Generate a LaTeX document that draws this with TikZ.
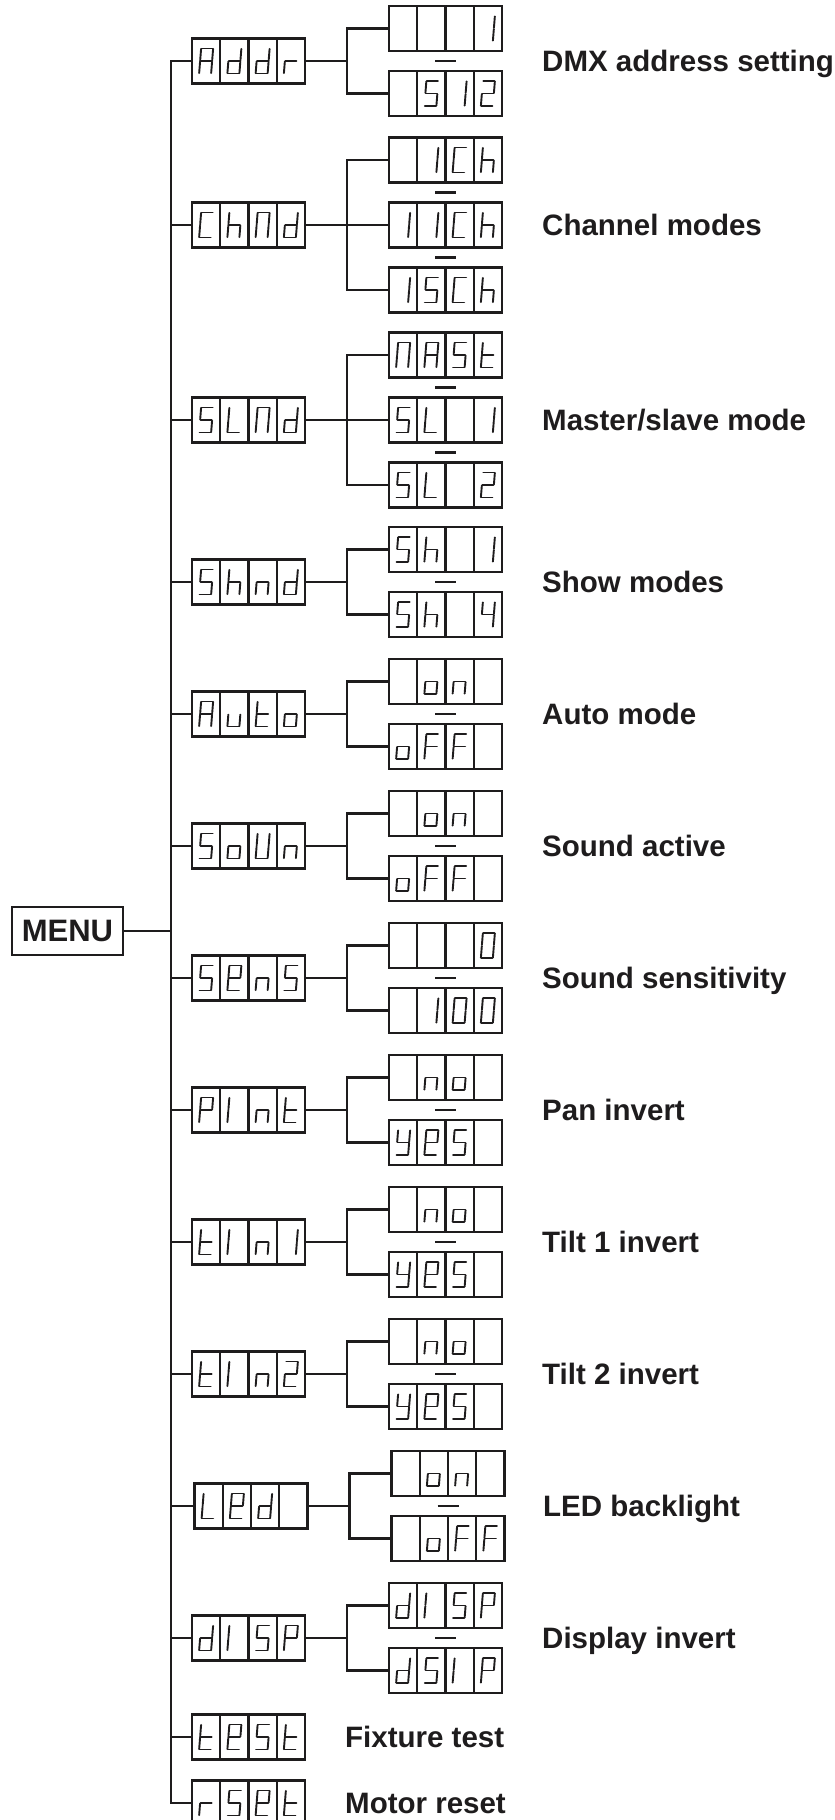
\documentclass[tikz,border=0pt]{standalone}
\usepackage{fontspec}
\newfontfamily\labfam{Liberation Sans}
\definecolor{ink}{RGB}{30,28,29}
\newcommand\labfont{\labfam\bfseries\fontsize{29.5}{32}\selectfont}
\newcommand\menufont{\labfam\bfseries\fontsize{31}{34}\selectfont}
% segments (local units, y downwards)
\def\sga{(-5.6,-12.5)--(5.6,-12.5)}
\def\sgb{(6,-12.1)--(6,-0.6)}
\def\sgc{(6,0.6)--(6,12.1)}
\def\sgd{(-5.6,12.5)--(5.6,12.5)}
\def\sge{(-6,0.6)--(-6,12.1)}
\def\sgf{(-6,-12.1)--(-6,-0.6)}
\def\sgg{(-5.6,0)--(5.6,0)}
% characters
\def\dgA{a,b,c,e,f,g}
\def\dgd{b,c,d,e,g}
\def\dgr{e,g}
\def\dgone{b,c}
\def\dgI{e,f}
\def\dgtwo{a,b,d,e,g}
\def\dgfour{b,c,f,g}
\def\dgS{a,c,d,f,g}
\def\dgzero{a,b,c,d,e,f}
\def\dgC{a,d,e,f}
\def\dgh{c,e,f,g}
\def\dgM{a,b,c,e,f}
\def\dgL{d,e,f}
\def\dgt{d,e,f,g}
\def\dgn{c,e,g}
\def\dgo{c,d,e,g}
\def\dgu{c,d,e}
\def\dgU{b,c,d,e,f}
\def\dgF{a,e,f,g}
\def\dge{a,b,d,e,f,g}
\def\dgP{a,b,e,f,g}
\def\dgy{b,c,d,f,g}
\def\dgX{}
\newcommand\glyph[3]{%
  \edef\glyphlist{#3}%
  \ifx\glyphlist\empty\else
  \begin{scope}[shift={(#1,#2)}, xslant=0.08]
    \foreach \s in \glyphlist {\expandafter\let\expandafter\segpath\csname sg\s\endcsname
      \draw[segline] \segpath;}
  \end{scope}\fi}
\newcommand\segbox[7]{%
  \node[dispbox] (#1) at (#2,#3) {};
  \foreach \dx in {-28.25,0,28.25} {\draw[boxline] (#2+\dx,#3-22.5) -- (#2+\dx,#3+22.5);}
  \glyph{#2-42.375}{#3}{#4}%
  \glyph{#2-14.125}{#3}{#5}%
  \glyph{#2+14.125}{#3}{#6}%
  \glyph{#2+42.375}{#3}{#7}%
}
\begin{document}
\begin{tikzpicture}[x=1pt,y=-1pt,
  wire/.style={line width=2.2pt, draw=ink},
  boxline/.style={line width=2.2pt, draw=ink},
  dispbox/.style={draw=ink, line width=2.2pt, minimum width=113pt, minimum height=45pt, inner sep=0pt},
  segline/.style={line width=1.9pt, draw=ink, line cap=round},
  lab/.style={font=\labfont, text=ink, inner sep=0pt, anchor=base west},
  menubox/.style={draw=ink, line width=2.2pt, minimum width=111pt, minimum height=48pt, inner sep=0pt, font=\menufont, text=ink}]
\useasboundingbox (0,0) rectangle (835,1820);
\coordinate (tr) at (171,900);
\coordinate (jx) at (347,0);
\coordinate (jxL) at (349.5,0);
% MENU
\node[menubox] (menu) at (67.5,931) {MENU};
% Row 1 Addr
\segbox{m1}{248.5}{61}{\dgA}{\dgd}{\dgd}{\dgr}
\segbox{o1a}{445.5}{28.5}{\dgX}{\dgX}{\dgX}{\dgone}
\segbox{o1b}{445.5}{93.5}{\dgX}{\dgS}{\dgone}{\dgtwo}
\node[lab] (l1) at (542,71.5) {DMX address setting};
% Row 2 ChMd
\segbox{m2}{248.5}{225}{\dgC}{\dgh}{\dgM}{\dgd}
\segbox{o2a}{445.5}{160}{\dgX}{\dgone}{\dgC}{\dgh}
\segbox{o2b}{445.5}{225}{\dgone}{\dgone}{\dgC}{\dgh}
\segbox{o2c}{445.5}{290}{\dgone}{\dgS}{\dgC}{\dgh}
\node[lab] (l2) at (542,235.5) {Channel modes};
% Row 3 SLMd
\segbox{m3}{248.5}{420}{\dgS}{\dgL}{\dgM}{\dgd}
\segbox{o3a}{445.5}{355}{\dgM}{\dgA}{\dgS}{\dgt}
\segbox{o3b}{445.5}{420}{\dgS}{\dgL}{\dgX}{\dgone}
\segbox{o3c}{445.5}{485}{\dgS}{\dgL}{\dgX}{\dgtwo}
\node[lab] (l3) at (542,430.5) {Master/slave mode};
% Row 4 Shnd
\segbox{m4}{248.5}{582}{\dgS}{\dgh}{\dgn}{\dgd}
\segbox{o4a}{445.5}{549.5}{\dgS}{\dgh}{\dgX}{\dgone}
\segbox{o4b}{445.5}{614.5}{\dgS}{\dgh}{\dgX}{\dgfour}
\node[lab] (l4) at (542,592.5) {Show modes};
% Row 5 Auto
\segbox{m5}{248.5}{714}{\dgA}{\dgu}{\dgt}{\dgo}
\segbox{o5a}{445.5}{681.5}{\dgX}{\dgo}{\dgn}{\dgX}
\segbox{o5b}{445.5}{746.5}{\dgo}{\dgF}{\dgF}{\dgX}
\node[lab] (l5) at (542,724.5) {Auto mode};
% Row 6 SoUn
\segbox{m6}{248.5}{846}{\dgS}{\dgo}{\dgU}{\dgn}
\segbox{o6a}{445.5}{813.5}{\dgX}{\dgo}{\dgn}{\dgX}
\segbox{o6b}{445.5}{878.5}{\dgo}{\dgF}{\dgF}{\dgX}
\node[lab] (l6) at (542,856.5) {Sound active};
% Row 7 SEnS
\segbox{m7}{248.5}{978}{\dgS}{\dge}{\dgn}{\dgS}
\segbox{o7a}{445.5}{945.5}{\dgX}{\dgX}{\dgX}{\dgzero}
\segbox{o7b}{445.5}{1010.5}{\dgX}{\dgone}{\dgzero}{\dgzero}
\node[lab] (l7) at (542,988.5) {Sound sensitivity};
% Row 8 PInt
\segbox{m8}{248.5}{1110}{\dgP}{\dgI}{\dgn}{\dgt}
\segbox{o8a}{445.5}{1077.5}{\dgX}{\dgn}{\dgo}{\dgX}
\segbox{o8b}{445.5}{1142.5}{\dgy}{\dge}{\dgS}{\dgX}
\node[lab] (l8) at (542,1120.5) {Pan invert};
% Row 9 tIn1
\segbox{m9}{248.5}{1242}{\dgt}{\dgI}{\dgn}{\dgone}
\segbox{o9a}{445.5}{1209.5}{\dgX}{\dgn}{\dgo}{\dgX}
\segbox{o9b}{445.5}{1274.5}{\dgy}{\dge}{\dgS}{\dgX}
\node[lab] (l9) at (542,1252.5) {Tilt 1 invert};
% Row 10 tIn2
\segbox{m10}{248.5}{1374}{\dgt}{\dgI}{\dgn}{\dgtwo}
\segbox{o10a}{445.5}{1341.5}{\dgX}{\dgn}{\dgo}{\dgX}
\segbox{o10b}{445.5}{1406.5}{\dgy}{\dge}{\dgS}{\dgX}
\node[lab] (l10) at (542,1384.5) {Tilt 2 invert};
% Row 11 LEd
\segbox{m11}{251}{1506}{\dgL}{\dge}{\dgd}{\dgX}
\segbox{o11a}{448}{1473.5}{\dgX}{\dgo}{\dgn}{\dgX}
\segbox{o11b}{448}{1538.5}{\dgX}{\dgo}{\dgF}{\dgF}
\node[lab] (l11) at (543,1516.5) {LED backlight};
% Row 12 dISP
\segbox{m12}{248.5}{1638}{\dgd}{\dgI}{\dgS}{\dgP}
\segbox{o12a}{445.5}{1605.5}{\dgd}{\dgI}{\dgS}{\dgP}
\segbox{o12b}{445.5}{1670.5}{\dgd}{\dgS}{\dgI}{\dgP}
\node[lab] (l12) at (542,1648.5) {Display invert};
% Row 13 tESt
\segbox{m13}{248.5}{1737}{\dgt}{\dge}{\dgS}{\dgt}
\node[lab] (l13) at (345,1747.5) {Fixture test};
% Row 14 rSEt
\segbox{m14}{248.5}{1803}{\dgr}{\dgS}{\dge}{\dgt}
\node[lab] (l14) at (345,1813.5) {Motor reset};
% trunk
\draw[wire] (m1.west) -| (tr) |- (m14.west);
\foreach \m in {m2,m3,m4,m5,m6,m7,m8,m9,m10,m11,m12,m13} {\draw[wire] (\m.west) -- (\m.west -| tr);}
\draw[wire] (menu.east) -- (menu.east -| tr);
% branches
\foreach \m/\a/\b in {m1/o1a/o1b,m2/o2a/o2c,m3/o3a/o3c,m4/o4a/o4b,m5/o5a/o5b,m6/o6a/o6b,m7/o7a/o7b,m8/o8a/o8b,m9/o9a/o9b,m10/o10a/o10b,m12/o12a/o12b} {
  \draw[wire] (\m.east) -- (\m.east -| jx);
  \draw[wire] (\a.west) -| (\m.east -| jx) |- (\b.west);
}
\draw[wire] (m2.east) -- (o2b.west);
\draw[wire] (m3.east) -- (o3b.west);
\draw[wire] (m11.east) -- (m11.east -| jxL);
\draw[wire] (o11a.west) -| (m11.east -| jxL) |- (o11b.west);
% separators
\foreach \y in {61,192.5,257.5,387.5,452.5,582,714,846,978,1110,1242,1374,1638} {\draw[wire] (435,\y) -- (456,\y);}
\draw[wire] (437.5,1506) -- (458.5,1506);
\end{tikzpicture}
\end{document}
